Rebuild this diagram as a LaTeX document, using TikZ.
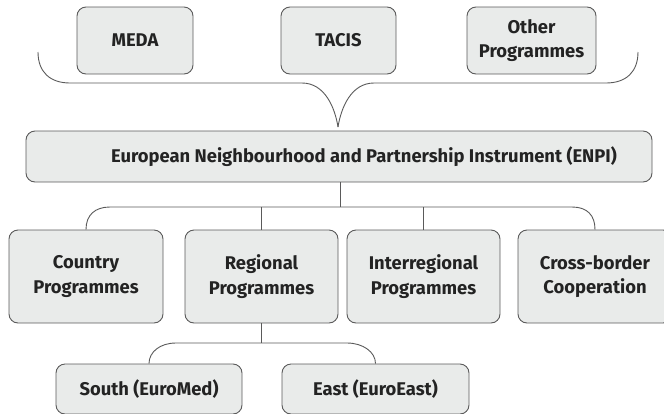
\documentclass[tikz,border=0pt]{standalone}
\usepackage{fontspec}
\setmainfont{Fira Sans}
\definecolor{boxfill}{HTML}{E9EBEA}
\definecolor{boxline}{HTML}{5A5A5A}
\definecolor{txt}{HTML}{232323}
\begin{document}
\begin{tikzpicture}[x=1pt,y=-1pt,
  box/.style={draw=boxline, fill=boxfill, line width=0.9pt, rounded corners=9pt,
    align=center, font=\fontsize{18.4}{24.5}\selectfont\bfseries, text=txt, inner sep=0pt},
  lbl/.style={align=center, font=\fontsize{18.4}{24.5}\selectfont\bfseries, text=txt, inner sep=0pt},
  conn/.style={draw=boxline, line width=0.9pt}]
\useasboundingbox (0,0) rectangle (664,413);
\clip (0,0) rectangle (664,413);
% top row
\node[box, minimum width=116pt, minimum height=67pt] (meda) at (135,40.5) {MEDA};
\node[box, minimum width=115pt, minimum height=67pt] (tacis) at (338.5,40.5) {TACIS};
\node[box, minimum width=129pt, minimum height=67pt] (other) at (531.5,40.5) {Other\\Programmes};
% brace
\coordinate (bl) at (38,52);
\coordinate (br) at (638,52);
\coordinate (tip) at (338,127);
\draw[conn] (bl) .. controls (38,72) and (50,83) .. (70,83) -- (302,83)
  .. controls (325,83) and (335,108) .. (tip);
\draw[conn] (br) .. controls (638,72) and (626,83) .. (606,83) -- (374,83)
  .. controls (351,83) and (341,108) .. (tip);
% ENPI
\node[box, minimum width=626pt, minimum height=51pt] (enpi) at (339,156.5) {};
\node[lbl] (enpitext) at (364,156.5) {European Neighbourhood and Partnership Instrument (ENPI)};
% middle row
\node[box, minimum width=154pt, minimum height=93pt] (country) at (86,276.5) {Country\\Programmes};
\node[box, minimum width=153pt, minimum height=93pt] (regional) at (261.5,276.5) {Regional\\Programmes};
\node[box, minimum width=153pt, minimum height=93pt] (inter) at (423.5,276.5) {Interregional\\Programmes};
\node[box, minimum width=154pt, minimum height=93pt] (cross) at (595,276.5) {Cross-border\\Cooperation};
% bottom row
\node[box, minimum width=186pt, minimum height=50pt] (south) at (149,389) {South (EuroMed)};
\node[box, minimum width=187pt, minimum height=50pt] (east) at (375.5,389) {East (EuroEast)};
% connectors ENPI -> row
\coordinate (bar) at (340,207);
\draw[conn] (enpi.south -| bar) -- (bar);
\draw[conn] (country.north) .. controls (86,215) and (95,207) .. (110,207) -- (572,207)
  .. controls (587,207) and (595,215) .. (cross.north);
\draw[conn] (regional.north) -- (regional.north |- bar);
\draw[conn] (inter.north) -- (inter.north |- bar);
% regional -> bottom
\coordinate (bar2) at (261.5,343);
\draw[conn] (regional.south) -- (bar2);
\draw[conn] (south.north) .. controls (149,352) and (160,343) .. (176,343) -- (347,343)
  .. controls (363,343) and (375.5,352) .. (east.north);
\end{tikzpicture}
\end{document}
